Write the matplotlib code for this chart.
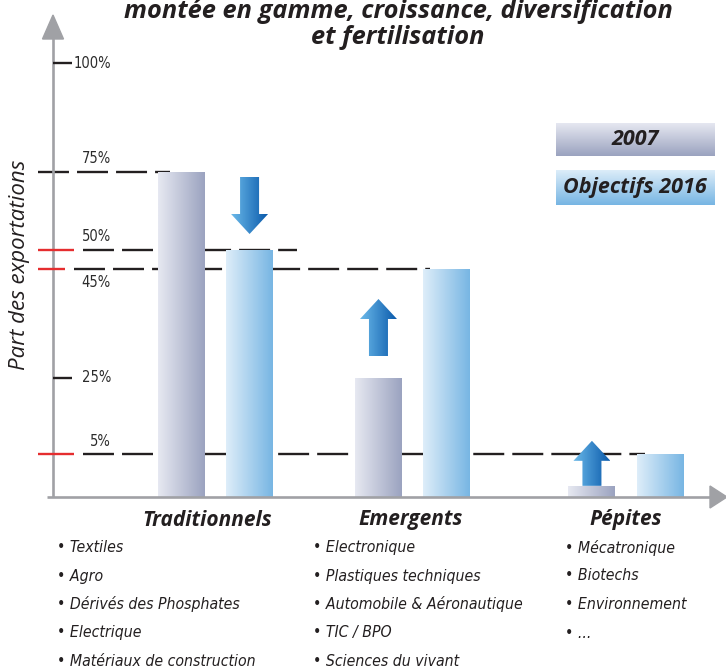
import numpy as np
import matplotlib
matplotlib.use('Agg')
import matplotlib.pyplot as plt
import matplotlib.transforms as mtransforms
from matplotlib.patches import Polygon, Rectangle
from matplotlib.colors import LinearSegmentedColormap

plt.rcParams['lines.scale_dashes'] = False

# data
groups = ['Traditionnels', 'Emergents', 'Pépites']
share_2007 = [75, 25, 1.3]
share_2016 = [50, 45, 5]
series_labels = ['2007', 'Objectifs 2016']
tick_values = [100, 75, 50, 45, 25, 5]
tick_labels = ['100%', '75%', '50%', '45%', '25%', '5%']
sectors = [
    ['Textiles', 'Agro', 'Dérivés des Phosphates', 'Electrique', 'Matériaux de construction'],
    ['Electronique', 'Plastiques techniques', 'Automobile & Aéronautique', 'TIC / BPO', 'Sciences du vivant'],
    ['Mécatronique', 'Biotechs', 'Environnement', '...'],
]
title = 'montée en gamme, croissance, diversification\net fertilisation'
ylabel = 'Part des exportations'

# colours
cm_2007 = LinearSegmentedColormap.from_list('c07', ['#e6e8f1', '#9aa2bf'])
cm_2016 = LinearSegmentedColormap.from_list('c16', ['#ddedf9', '#76b5e3'])
cm_arrow = LinearSegmentedColormap.from_list('arr', ['#6cbaea', '#0a5aab'])
gray = '#a0a1a5'
red = '#e52d2f'
black = '#231f20'
narrow = dict(family='DejaVu Sans', stretch='condensed')

# the drawing uses a non-linear vertical scale (value -> px above baseline)
k_val = np.array([-100, 0, 5, 25, 45, 50, 75, 100, 300])
k_px = np.array([-860, 0, 43, 119, 228, 247, 325, 434, 1306])


def fwd(v):
    return np.interp(v, k_val, k_px)


def inv(p):
    return np.interp(p, k_px, k_val)


W, H = 726, 670
base_y = 497  # baseline, px from top

fig = plt.figure(figsize=(W / 100, H / 100), dpi=100)
ov = fig.add_axes([0, 0, 1, 1])
ov.set_xlim(0, W)
ov.set_ylim(H, 0)
ov.axis('off')
ax = fig.add_axes([0, 0, 1, 1])
ax.set_yscale('function', functions=(fwd, inv))
ax.axis('off')
ax.patch.set_visible(False)

group_pos = np.array([0, 0.96, 2.0])
xlim = (-1.0499, 2.4872)
ylim = (inv(-(H - base_y)), inv(base_y))
ax.set_xlim(*xlim)
ax.set_ylim(*ylim)

px = ov.transData
bl = mtransforms.blended_transform_factory(ov.transData, ax.transData)

# axes arrows
ax.plot([53, 53], [base_y, 30], color=gray, lw=1.9, transform=px, zorder=2, solid_capstyle='butt')
ax.add_patch(Polygon([(42.5, 39), (53, 15), (63.5, 39)], closed=True, color=gray, transform=px, zorder=2))
ax.plot([47, 715], [base_y, base_y], color=gray, lw=1.9, transform=px, zorder=5, solid_capstyle='butt')
ax.add_patch(Polygon([(710, base_y - 11), (727, base_y), (710, base_y + 11)], closed=True, color=gray,
                     transform=px, zorder=5))

# reference lines: (value, red segment, black dashed segment)
ref_lines = [(75, None, (38, 170)),
             (50, (38, 74), (83, 297)),
             (45, (38, 65), (74, 430)),
             (5, (38, 74), (83, 645))]
for val, rseg, bseg in ref_lines:
    if rseg:
        ax.plot(rseg, [val, val], color=red, lw=1.7, transform=bl, zorder=2, solid_capstyle='butt')
    ax.plot(bseg, [val, val], color=black, lw=1.7, transform=bl, zorder=1,
            dashes=(22.3, 5.8), dash_capstyle='butt')
for val in [100, 25]:
    ax.plot([53, 72], [val, val], color=black, lw=1.7, transform=bl, zorder=2, solid_capstyle='butt')

# tick labels
lab_dy = {100: 0, 75: 10, 50: 9.5, 45: -9.5, 25: 0, 5: 9}
for val, lab in zip(tick_values, tick_labels):
    ax.annotate(lab, xy=(111, val), xycoords=bl, xytext=(0, lab_dy[val]), textcoords='offset points',
                ha='right', va='center', fontsize=10.5, color='#2b2b2b', **narrow)

# bars with gradient
off, bw = 0.166, 0.229
b07 = ax.bar(group_pos - off, share_2007, bw, color='none', lw=0, zorder=3)
b16 = ax.bar(group_pos + off, share_2016, bw, color='none', lw=0, zorder=3)
grad = np.linspace(0, 1, 256).reshape(1, -1)
for bars, cm in [(b07, cm_2007), (b16, cm_2016)]:
    for r in bars:
        x0, w, h = r.get_x(), r.get_width(), r.get_height()
        im = ax.imshow(grad, extent=(x0, x0 + w, 0, h), cmap=cm, aspect='auto',
                       interpolation='bilinear', zorder=3)
        im.set_clip_path(r)
ax.set_xlim(*xlim)
ax.set_ylim(*ylim)


def to_px(x, v):
    d = ax.transData.transform((x, v))
    return ov.transData.inverted().transform(d)


# arrows showing the change
arrow_gap = [16, 22, 0]
arrow_len = [57, 57, 45]
sw, hw, hl = 19, 37, 20
for i in range(len(groups)):
    if share_2016[i] < share_2007[i]:
        cx, top = to_px(group_pos[i] + off, share_2016[i])
        y_tip = top - arrow_gap[i]
        y_start = y_tip - arrow_len[i]
        pts = [(cx - sw / 2, y_start), (cx + sw / 2, y_start), (cx + sw / 2, y_tip - hl),
               (cx + hw / 2, y_tip - hl), (cx, y_tip), (cx - hw / 2, y_tip - hl), (cx - sw / 2, y_tip - hl)]
    else:
        cx, top = to_px(group_pos[i] - off, share_2007[i])
        y_start = top - arrow_gap[i]
        y_tip = y_start - arrow_len[i]
        pts = [(cx - sw / 2, y_start), (cx + sw / 2, y_start), (cx + sw / 2, y_tip + hl),
               (cx + hw / 2, y_tip + hl), (cx, y_tip), (cx - hw / 2, y_tip + hl), (cx - sw / 2, y_tip + hl)]
    poly = Polygon(pts, closed=True, facecolor='none', lw=0, transform=px, zorder=4)
    ax.add_patch(poly)
    im = ax.imshow(grad, extent=(cx - hw / 2, cx + hw / 2, max(y_start, y_tip), min(y_start, y_tip)),
                   cmap=cm_arrow, aspect='auto', interpolation='bilinear', transform=px, zorder=4)
    im.set_clip_path(poly)
ax.set_xlim(*xlim)
ax.set_ylim(*ylim)

# legend boxes
vgrad = np.linspace(0, 1, 256).reshape(-1, 1)
for (y0, hgt), cm, lab in zip([(123, 33), (170, 35)], [cm_2007, cm_2016], series_labels):
    rect = Rectangle((556, y0), 159, hgt, facecolor='none', lw=0, transform=px, zorder=4)
    ax.add_patch(rect)
    im = ax.imshow(vgrad, extent=(556, 715, y0 + hgt, y0), cmap=cm, aspect='auto', origin='upper',
                   interpolation='bilinear', transform=px, zorder=4)
    im.set_clip_path(rect)
    ax.text(635, y0 + hgt / 2, lab, transform=px, ha='center', va='center', fontsize=15.5,
            fontweight='bold', style='italic', color='#231f20', family='Open Sans', zorder=5)
ax.set_xlim(*xlim)
ax.set_ylim(*ylim)

# title and axis label
ax.text(398, 44, title, transform=px, ha='center', va='baseline', fontsize=18.3, fontweight='bold',
        style='italic', color='#231f20', family='Open Sans', linespacing=1.05)
ax.text(20, 265, ylabel, transform=px, rotation=90, ha='center', va='center', fontsize=16,
        style='italic', color='#231f20', family='Open Sans')

# group headings and sector lists
head_x = [207, 411, 626]
list_x = [57, 313, 565]
for i, g in enumerate(groups):
    ax.text(head_x[i], 520, g, transform=px, ha='center', va='center', fontsize=15, fontweight='bold',
            style='italic', color='#231f20', family='Open Sans')
    for j, s in enumerate(sectors[i]):
        ax.text(list_x[i], 547.5 + 28.5 * j, '• ' + s, transform=px, ha='left', va='center',
                fontsize=11.3, style='italic', color='#231f20', **narrow)

fig.savefig('out.png', dpi=100)
